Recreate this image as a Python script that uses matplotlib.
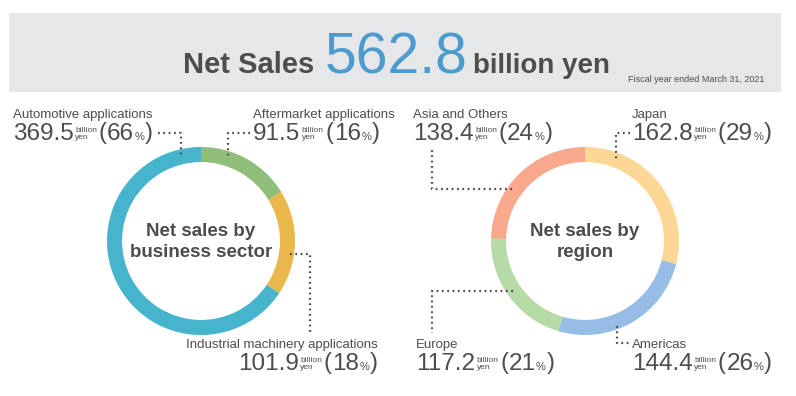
import matplotlib
matplotlib.use("Agg")
import matplotlib.pyplot as plt
from matplotlib.patches import Rectangle

# данные
total_sales = "562.8"
fiscal_note = "Fiscal year ended March 31, 2021"

sector_names = ["Aftermarket applications", "Industrial machinery applications", "Automotive applications"]
sector_values = [91.5, 101.9, 369.5]
sector_pct = [16, 18, 66]
sector_colors = ["#8fbe7b", "#e9b74a", "#46b4cd"]

region_names = ["Japan", "Americas", "Europe", "Asia and Others"]
region_values = [162.8, 144.4, 117.2, 138.4]
region_pct = [29, 26, 21, 24]
region_colors = ["#fdd795", "#95bde5", "#b7dba7", "#f8a98c"]

TXT = "#4d4d4d"
plt.rcParams['font.family'] = ["Liberation Sans", "DejaVu Sans"]

W, H = 796, 396
fig = plt.figure(figsize=(W / 100, H / 100), dpi=100)


def donut(cx, cy, r, values, colors):
    # оси для кольца в пиксельных координатах
    a = fig.add_axes([(cx - r) / W, (H - cy - r) / H, 2 * r / W, 2 * r / H])
    a.pie(values, colors=colors, startangle=90, counterclock=False,
          wedgeprops=dict(width=0.16, edgecolor="none"))
    a.set_xlim(-1, 1)
    a.set_ylim(-1, 1)
    a.set_aspect("equal")
    a.axis("off")
    return a


donut(201, 241, 94, sector_values, sector_colors)
donut(585, 241, 94, region_values, region_colors)

ax = fig.add_axes([0, 0, 1, 1])
ax.set_xlim(0, W)
ax.set_ylim(H, 0)
ax.axis("off")
ax.patch.set_alpha(0)

renderer = fig.canvas.get_renderer()


def pieces(x, y, parts):
    # parts: (текст, размер, жирность, цвет, сдвиг по y, отступ)
    objs = []
    cur = x
    for s, size, weight, color, dy, gap in parts:
        cur += gap
        t = ax.text(cur, y + dy, s, fontsize=size, fontweight=weight, color=color,
                    ha="left", va="baseline")
        cur += t.get_window_extent(renderer).width
        objs.append(t)
    return cur, objs


def value_label(x, y, name, value, pct, align="left", name_dy=-22):
    t = ax.text(0, 0, "billion", fontsize=6, color=TXT)
    bw = t.get_window_extent(renderer).width
    t.remove()
    parts = [(f"{value:.1f}", 17.5, "normal", TXT, 0, 0),
             ("(", 17, "normal", TXT, -1, bw + 3),
             (f"{pct}", 17.5, "normal", TXT, 0, 0.5),
             ("%", 8, "normal", TXT, 0, 0.5),
             (")", 17, "normal", TXT, -1, 0.5)]
    end, objs = pieces(x, y, parts)
    shift = 0
    if align == "right":
        shift = x - end
        for o in objs:
            o.set_x(o.get_position()[0] + shift)
    w0 = objs[0].get_window_extent(renderer).width
    bx = x + shift + w0 + 1.5
    ax.text(bx, y - 8, "billion", fontsize=6, color=TXT, ha="left", va="baseline")
    ax.text(bx, y - 1, "yen", fontsize=6, color=TXT, ha="left", va="baseline")
    ax.text(x, y + name_dy, name, fontsize=9.5, color=TXT, ha=align, va="baseline")


# шапка
ax.add_patch(Rectangle((9, 13), 772, 79, facecolor="#e6e7e8", edgecolor="none"))
pieces(183, 73, [("Net Sales", 21, "bold", TXT, 0, 0),
                 (total_sales, 41, "normal", "#4b9bcf", 0, 10),
                 ("billion yen", 20, "bold", TXT, 0, 6)])
ax.text(628, 82, fiscal_note, fontsize=6.5, color=TXT, ha="left", va="baseline")

# центральные надписи
ax.text(201, 242, "Net sales by\nbusiness sector", fontsize=13.5, fontweight="bold",
        color=TXT, ha="center", va="center", linespacing=1.3)
ax.text(585, 242, "Net sales by\nregion", fontsize=13.5, fontweight="bold",
        color=TXT, ha="center", va="center", linespacing=1.3)

# подписи сегментов
value_label(13, 140, sector_names[2], sector_values[2], sector_pct[2])
value_label(253, 140, sector_names[0], sector_values[0], sector_pct[0])
value_label(378, 370, sector_names[1], sector_values[1], sector_pct[1], align="right")

value_label(413, 140, region_names[3], region_values[3], region_pct[3])
value_label(632, 140, region_names[0], region_values[0], region_pct[0])
value_label(632, 370, region_names[1], region_values[1], region_pct[1])
value_label(416, 370, region_names[2], region_values[2], region_pct[2])

# пунктирные выноски
leaders = [
    ([158, 181, 181], [133, 133, 156]),
    ([250, 228, 228], [133, 133, 156]),
    ([290, 310, 310], [254, 254, 333]),
    ([432, 432, 513], [150, 189, 189]),
    ([630, 616, 616], [133, 133, 160]),
    ([617, 617, 629], [326, 343, 343]),
    ([513, 432, 432], [291, 291, 333]),
]
for xs, ys in leaders:
    ax.plot(xs, ys, color=TXT, lw=1.6, linestyle=(0, (0.8, 1.6)), solid_capstyle="butt")

fig.savefig("out.png", dpi=100)
